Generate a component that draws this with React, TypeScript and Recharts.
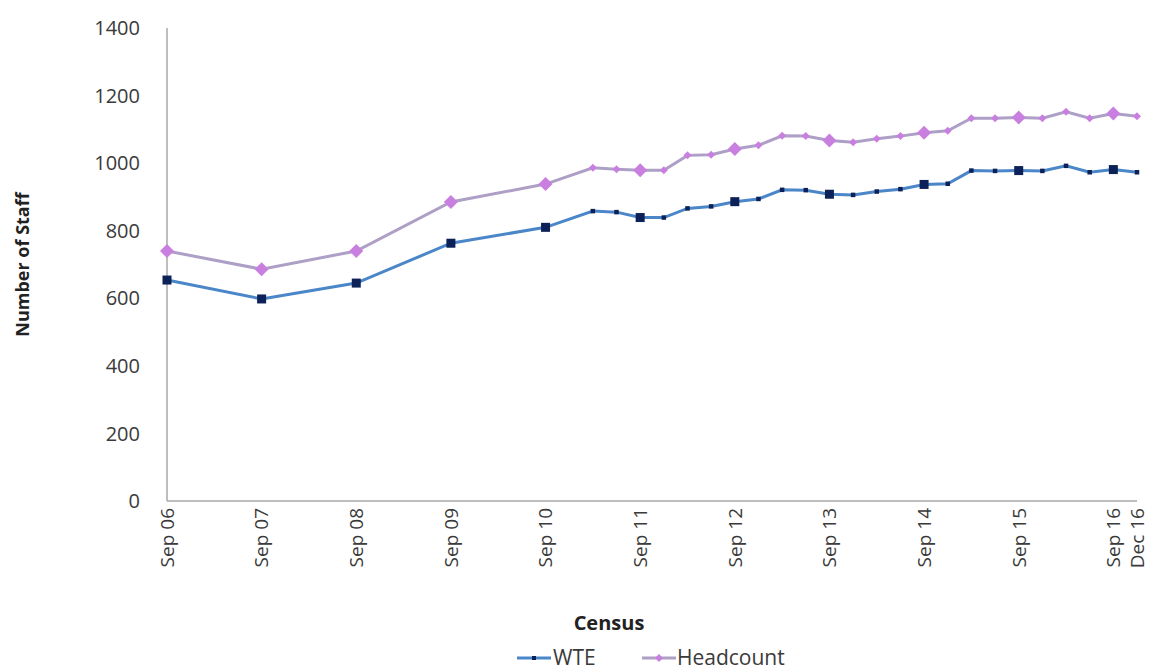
import React from 'react';
import { LineChart, Line, XAxis, YAxis, Legend, Label } from 'recharts';

const months = [0, 12, 24, 36, 48, 54, 57, 60, 63, 66, 69, 72, 75, 78, 81, 84, 87, 90, 93, 96, 99, 102, 105, 108, 111, 114, 117, 120, 123];
const pointLabels = ['Sep 06', 'Sep 07', 'Sep 08', 'Sep 09', 'Sep 10', 'Mar 11', 'Jun 11', 'Sep 11', 'Dec 11', 'Mar 12', 'Jun 12', 'Sep 12', 'Dec 12', 'Mar 13', 'Jun 13', 'Sep 13', 'Dec 13', 'Mar 14', 'Jun 14', 'Sep 14', 'Dec 14', 'Mar 15', 'Jun 15', 'Sep 15', 'Dec 15', 'Mar 16', 'Jun 16', 'Sep 16', 'Dec 16'];
const wte = [654, 598, 645, 763, 810, 858, 855, 839, 839, 866, 872, 886, 894, 921, 920, 908, 906, 916, 923, 937, 939, 978, 977, 978, 977, 992, 973, 981, 973];
const headcount = [740, 686, 740, 885, 938, 986, 982, 979, 979, 1023, 1025, 1042, 1053, 1081, 1080, 1067, 1062, 1072, 1080, 1090, 1096, 1133, 1133, 1135, 1133, 1152, 1133, 1147, 1139];
const tickMonths = [0, 12, 24, 36, 48, 60, 72, 84, 96, 108, 120, 123];
const tickLabels = ['Sep 06', 'Sep 07', 'Sep 08', 'Sep 09', 'Sep 10', 'Sep 11', 'Sep 12', 'Sep 13', 'Sep 14', 'Sep 15', 'Sep 16', 'Dec 16'];
const yTicks = [0, 200, 400, 600, 800, 1000, 1200, 1400];

const data = months.map((m, i) => ({ month: m, label: pointLabels[i], wte: wte[i], headcount: headcount[i] }));

const FONT = '"Open Sans", sans-serif';
const TEXT = '#3a3a3a';
const WTE_LINE = '#4a86c8';
const WTE_MARK = '#0c2157';
const HC_LINE = '#ad9fc6';
const HC_MARK = '#c97fe0';
const AXIS = '#a9a9a9';

const labelFor = (m: number) => {
  const i = tickMonths.indexOf(m);
  return i >= 0 ? tickLabels[i] : '';
};

const XTick = (props: any) => {
  const { x, y, payload } = props;
  return (
    <g transform={`translate(${x},${y})`}>
      <text transform="rotate(-90)" textAnchor="end" dy="0.36em" fill={TEXT} fontSize={19} fontFamily={FONT}>
        {labelFor(payload.value)}
      </text>
    </g>
  );
};

const WteDot = (props: any) => {
  const { cx, cy, payload, index } = props;
  if (cx == null || cy == null) return <g key={`w${index}`} />;
  const major = String(payload.label).startsWith('Sep');
  const s = major ? 9 : 4.5;
  return <rect key={`w${index}`} x={cx - s / 2} y={cy - s / 2} width={s} height={s} fill={WTE_MARK} />;
};

const HcDot = (props: any) => {
  const { cx, cy, payload, index } = props;
  if (cx == null || cy == null) return <g key={`h${index}`} />;
  const major = String(payload.label).startsWith('Sep');
  const r = major ? 7 : 4;
  return (
    <polygon
      key={`h${index}`}
      points={`${cx},${cy - r} ${cx + r},${cy} ${cx},${cy + r} ${cx - r},${cy}`}
      fill={HC_MARK}
    />
  );
};

const LegendContent = () => (
  <div style={{ position: 'relative', width: 1137, height: 48, fontFamily: FONT, fontSize: 21, color: TEXT }}>
    <svg style={{ position: 'absolute', left: 517, top: 31 }} width={34} height={12}>
      <line x1={0} y1={6} x2={34} y2={6} stroke={WTE_LINE} strokeWidth={3} />
      <rect x={15} y={4} width={4} height={4} fill={WTE_MARK} />
    </svg>
    <div style={{ position: 'absolute', left: 553, top: 22, lineHeight: '28px' }}>WTE</div>
    <svg style={{ position: 'absolute', left: 642, top: 31 }} width={34} height={12}>
      <line x1={0} y1={6} x2={34} y2={6} stroke={HC_LINE} strokeWidth={3} />
      <polygon points="17,2 21,6 17,10 13,6" fill={HC_MARK} />
    </svg>
    <div style={{ position: 'absolute', left: 677, top: 22, lineHeight: '28px' }}>Headcount</div>
  </div>
);

export default function App() {
  return (
    <div style={{ position: 'absolute', left: 0, top: 0, width: 1149, height: 669, background: '#fff' }}>
      <LineChart width={1149} height={669} data={data} margin={{ top: 28, right: 12, bottom: 0, left: 0 }}>
        <XAxis
          type="number"
          dataKey="month"
          domain={[0, 123]}
          ticks={tickMonths}
          interval={0}
          tick={<XTick />}
          tickLine={false}
          tickSize={0}
          tickMargin={7}
          axisLine={{ stroke: AXIS, strokeWidth: 1.5 }}
          height={120}
        >
          <Label
            content={(p: any) => {
              const vb = p.viewBox || {};
              return (
                <text x={609} y={vb.y + 129} textAnchor="middle" fill="#222" fontSize={20} fontWeight="bold" fontFamily={FONT}>
                  Census
                </text>
              );
            }}
          />
        </XAxis>
        <YAxis
          type="number"
          domain={[0, 1400]}
          ticks={yTicks}
          interval={0}
          tickLine={false}
          tickSize={0}
          tickMargin={27}
          width={167}
          axisLine={{ stroke: AXIS, strokeWidth: 1.5 }}
          tick={{ fill: TEXT, fontSize: 20, fontFamily: FONT }}
        >
          <Label
            content={(p: any) => {
              const vb = p.viewBox || {};
              const cy = vb.y + vb.height / 2;
              return (
                <text
                  x={22}
                  y={cy}
                  transform={`rotate(-90, 22, ${cy})`}
                  textAnchor="middle"
                  dominantBaseline="central"
                  fill="#222"
                  fontSize={18}
                  fontWeight="bold"
                  fontFamily={FONT}
                >
                  Number of Staff
                </text>
              );
            }}
          />
        </YAxis>
        <Legend verticalAlign="bottom" height={48} content={<LegendContent />} />
        <Line
          type="linear"
          dataKey="wte"
          name="WTE"
          stroke={WTE_LINE}
          strokeWidth={3}
          dot={WteDot}
          activeDot={false}
          isAnimationActive={false}
        />
        <Line
          type="linear"
          dataKey="headcount"
          name="Headcount"
          stroke={HC_LINE}
          strokeWidth={3}
          dot={HcDot}
          activeDot={false}
          isAnimationActive={false}
        />
      </LineChart>
    </div>
  );
}
